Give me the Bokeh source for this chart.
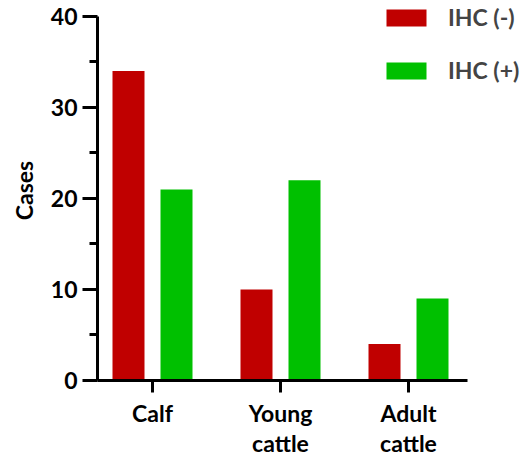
from bokeh.plotting import figure
from bokeh.models import ColumnDataSource, Range1d, FixedTicker, Legend, LegendItem
from bokeh.embed import file_html
from bokeh.resources import INLINE

categories = ["Calf", "Young\ncattle", "Adult\ncattle"]
ihc_neg = [34, 10, 4]
ihc_pos = [21, 22, 9]
series_names = ["IHC (-)", "IHC (+)"]
colors = ["#C00000", "#00C000"]
y_ticks = [0, 10, 20, 30, 40]
y_minor = [5, 15, 25, 35]

FONT = "Lato"
FS = "23px"
x = list(range(len(categories)))
offset = 0.1875
bar_w = 0.25

p = figure(frame_width=435, frame_height=380, output_backend="svg", toolbar_location=None,
           x_range=Range1d(-0.4297, 2.9687), y_range=Range1d(0, 41.758),
           min_border_left=97, min_border_right=0, min_border_top=0, min_border_bottom=78)
p.outline_line_color = None
p.grid.visible = False
p.background_fill_color = "white"

src_neg = ColumnDataSource(dict(x=[v - offset for v in x], top=ihc_neg))
src_pos = ColumnDataSource(dict(x=[v + offset for v in x], top=ihc_pos))
r_neg = p.vbar(x="x", top="top", width=bar_w, source=src_neg, fill_color=colors[0], line_color=None)
r_pos = p.vbar(x="x", top="top", width=bar_w, source=src_pos, fill_color=colors[1], line_color=None)

# y axis
ya = p.yaxis[0]
ya.ticker = FixedTicker(ticks=y_ticks, minor_ticks=y_minor)
ya.bounds = (0, 40)
ya.axis_line_width = 3
ya.major_tick_line_width = 3
ya.minor_tick_line_width = 3
ya.major_tick_out = 15
ya.major_tick_in = 0
ya.minor_tick_out = 8
ya.minor_tick_in = 0
ya.major_label_standoff = 5
ya.major_label_text_font = FONT
ya.major_label_text_font_style = "bold"
ya.major_label_text_font_size = FS
ya.major_label_text_color = "black"
ya.axis_label = "Cases"
ya.axis_label_text_font = FONT
ya.axis_label_text_font_style = "bold"
ya.axis_label_text_font_size = FS
ya.axis_label_text_color = "black"
ya.axis_label_standoff = 10

# x axis
xa = p.xaxis[0]
xa.ticker = FixedTicker(ticks=x, minor_ticks=[])
xa.major_label_overrides = {i: c for i, c in zip(x, categories)}
xa.bounds = (-0.4297, 2.461)
xa.axis_line_width = 3
xa.major_tick_line_width = 3
xa.major_tick_out = 12
xa.major_tick_in = 0
xa.minor_tick_line_color = None
xa.major_label_standoff = 6
xa.major_label_text_font = FONT
xa.major_label_text_font_style = "bold"
xa.major_label_text_font_size = FS
xa.major_label_text_line_height = 1.08
xa.major_label_text_color = "black"

legend = Legend(items=[LegendItem(label=series_names[0], renderers=[r_neg]),
                       LegendItem(label=series_names[1], renderers=[r_pos])],
                location=(284, 296), orientation="vertical",
                glyph_width=50, glyph_height=21, label_standoff=17,
                label_height=21, spacing=25, padding=0, margin=0,
                border_line_color=None, background_fill_alpha=0,
                label_text_font=FONT, label_text_font_style="bold",
                label_text_font_size=FS)
p.add_layout(legend, "center")

open("out.html", "w").write(file_html(p, INLINE))
